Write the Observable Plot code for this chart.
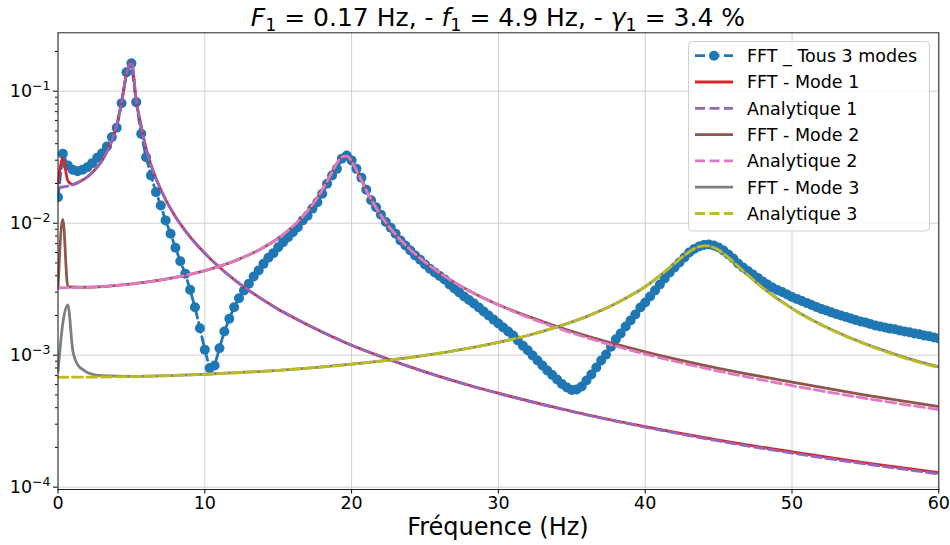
<!DOCTYPE html>
<html><head><meta charset="utf-8">
<script src="https://cdn.jsdelivr.net/npm/d3@7"></script>
<script src="https://cdn.jsdelivr.net/npm/@observablehq/plot@0.6"></script>
<style>
body{margin:0;background:#fff;}
#chart{width:950px;height:545px;}
</style></head><body><div id="chart"></div>
<script>
// FFT frequency bins (Hz)
const fftFreq = [0,0.33,0.67,1,1.33,1.67,2,2.33,2.67,3,3.33,3.67,4,4.33,4.67,5,5.33,5.67,6,6.33,6.67,7,7.33,7.67,8,8.33,8.67,9,9.33,9.67,
10,10.33,10.67,11,11.33,11.67,12,12.33,12.67,13,13.33,13.67,14,14.33,14.67,15,15.33,15.67,16,16.33,16.67,17,17.33,17.67,18,18.33,18.67,19,19.33,19.67,
20,20.33,20.67,21,21.33,21.67,22,22.33,22.67,23,23.33,23.67,24,24.33,24.67,25,25.33,25.67,26,26.33,26.67,27,27.33,27.67,28,28.33,28.67,29,29.33,29.67,
30,30.33,30.67,31,31.33,31.67,32,32.33,32.67,33,33.33,33.67,34,34.33,34.67,35,35.33,35.67,36,36.33,36.67,37,37.33,37.67,38,38.33,38.67,39,39.33,39.67,
40,40.33,40.67,41,41.33,41.67,42,42.33,42.67,43,43.33,43.67,44,44.33,44.67,45,45.33,45.67,46,46.33,46.67,47,47.33,47.67,48,48.33,48.67,49,49.33,49.67,
50,50.33,50.67,51,51.33,51.67,52,52.33,52.67,53,53.33,53.67,54,54.33,54.67,55,55.33,55.67,56,56.33,56.67,57,57.33,57.67,58,58.33,58.67,59,59.33,59.67,60];
// FFT _ Tous 3 modes
const fftAll = [0.0157,0.0336,0.0274,0.0254,0.0248,0.0254,0.0265,0.0285,0.0313,0.0339,
0.0381,0.0449,0.0528,0.0811,0.139,0.163,0.0826,0.0475,0.0316,0.0230,
0.0172,0.0136,0.0105,0.00832,0.00652,0.00515,0.00414,0.00313,0.00231,0.00160,
0.00110,0.000798,0.000836,0.00113,0.00151,0.00189,0.00231,0.00270,0.00309,0.00348,
0.00394,0.00439,0.00492,0.00547,0.00593,0.00658,0.00718,0.00783,0.00855,0.00933,
0.0105,0.0114,0.0129,0.0144,0.0167,0.0199,0.0230,0.0258,0.0308,0.0326,
0.0299,0.0258,0.0221,0.0179,0.0149,0.0132,0.0116,0.0102,0.00923,0.00832,
0.00740,0.00678,0.00621,0.00569,0.00528,0.00486,0.00451,0.00423,0.00398,0.00375,
0.00343,0.00320,0.00299,0.00278,0.00262,0.00246,0.00230,0.00214,0.00200,0.00186,
0.00174,0.00162,0.00151,0.00141,0.00129,0.00118,0.00109,0.000995,0.000912,0.000836,
0.000766,0.000708,0.000655,0.000605,0.000569,0.000545,0.000550,0.000579,0.000643,0.000714,
0.000807,0.000912,0.00101,0.00116,0.00132,0.00146,0.00165,0.00183,0.00203,0.00230,
0.00251,0.00278,0.00309,0.00343,0.00381,0.00423,0.00462,0.00504,0.00550,0.00600,
0.00638,0.00666,0.00684,0.00690,0.00678,0.00655,0.00621,0.00579,0.00540,0.00495,
0.00462,0.00434,0.00409,0.00385,0.00362,0.00343,0.00326,0.00312,0.00301,0.00288,
0.00276,0.00267,0.00257,0.00249,0.00240,0.00232,0.00224,0.00218,0.00211,0.00205,
0.00200,0.00195,0.00190,0.00185,0.00180,0.00177,0.00172,0.00168,0.00165,0.00162,
0.00159,0.00157,0.00154,0.00151,0.00149,0.00146,0.00144,0.00141,0.00139,0.00136,0.00134];

// Mode 1
const mode1Freq = [0,0.33,0.67,1,1.33,1.67,2,2.33,2.67,3,3.33,3.67,4,4.33,4.67,5,5.33,5.67,6,6.33,6.67,7,7.33,7.67,8,8.5,9,10,11,12,13,14,15,16,18,20,22,25,28,30,35,40,45,50,55,60];
const analytic1 = [0.0187,0.0188,0.0191,0.0195,0.0202,0.0212,0.0224,0.0242,0.0266,0.0298,0.0347,0.0422,0.0553,0.0825,0.135,0.166,0.085,0.0537,0.0369,0.0277,0.0219,0.0180,0.0151,0.0129,0.0112,0.0093,0.00788,0.00591,0.00463,0.00374,0.00310,0.00261,0.00223,0.00194,0.00150,0.00119,0.000976,0.000747,0.000591,0.000513,0.000374,0.000285,0.000224,0.000181,0.000150,0.000126];
const fftMode1 = [0.0200,0.0310,0.0210,0.0197,0.0203,0.0212,0.0224,0.0242,0.0266,0.0298,0.0347,0.0422,0.0553,0.0825,0.135,0.166,0.085,0.0537,0.0369,0.0277,0.0219,0.0180,0.0151,0.0129,0.0112,0.0093,0.00788,0.00591,0.00463,0.00374,0.00310,0.00261,0.00223,0.00194,0.00150,0.00119,0.000977,0.000748,0.000592,0.000515,0.000376,0.000287,0.000227,0.000185,0.000153,0.000129];

// Mode 2
const mode2Freq = [0,2,4,6,8,10,12,14,15,16,17,17.33,17.67,18,18.33,18.67,19,19.33,19.67,20,20.33,20.67,21,21.67,22.33,23,24,25,26,28,30,33,36,40,45,50,55,60];
const analytic2 = [0.00324,0.00327,0.00338,0.00357,0.00388,0.00437,0.00516,0.00655,0.00769,0.00944,0.01235,0.01378,0.01558,0.01785,0.02074,0.02434,0.0284,0.0317,0.0322,0.02945,0.02518,0.0211,0.01773,0.01306,0.01014,0.00821,0.00630,0.00507,0.00420,0.00308,0.00240,0.00176,0.00136,0.00102,0.000757,0.000588,0.000471,0.000387];
const fftMode2Freq = [0,0.33,0.67,2,4,6,8,10,12,14,15,16,17,17.33,17.67,18,18.33,18.67,19,19.33,19.67,20,20.33,20.67,21,21.67,22.33,23,24,25,26,28,30,33,36,40,45,50,55,60];
const fftMode2 = [0.0032,0.0107,0.0033,0.00327,0.00338,0.00357,0.00388,0.00437,0.00516,0.00655,0.00769,0.00944,0.01235,0.01378,0.01558,0.01785,0.02074,0.02434,0.0284,0.0317,0.0322,0.02945,0.02518,0.0211,0.01773,0.01306,0.01014,0.00821,0.00630,0.00507,0.00420,0.00308,0.00241,0.00180,0.00140,0.00106,0.000795,0.000625,0.000499,0.000408];

// Mode 3
const mode3Freq = [0,5,10,15,20,25,28,30,32,34,36,38,39,40,41,42,42.67,43.33,43.67,44,44.33,44.67,45,45.33,46,47,48,50,52,54,56,58,60];
const analytic3 = [0.00068,0.000689,0.000717,0.000768,0.000854,0.000996,0.00113,0.00125,0.00141,0.00164,0.00196,0.00246,0.00283,0.00330,0.00400,0.00495,0.00570,0.00640,0.00664,0.00674,0.00672,0.00655,0.00627,0.00590,0.00509,0.00404,0.00324,0.00225,0.00169,0.00134,0.00110,0.000927,0.000804];
const fftMode3Freq = [0,0.33,0.67,1,1.33,1.67,2,2.5,3,5,10,15,20,25,28,30,32,34,36,38,39,40,41,42,42.67,43.33,43.67,44,44.33,44.67,45,45.33,46,47,48,50,52,54,56,58,60];
const fftMode3 = [0.00075,0.00175,0.00240,0.00110,0.00085,0.00078,0.00074,0.00071,0.000700,0.000692,0.000717,0.000768,0.000854,0.000996,0.00113,0.00125,0.00141,0.00164,0.00196,0.00246,0.00283,0.00330,0.00400,0.00495,0.00570,0.00640,0.00664,0.00674,0.00672,0.00655,0.00627,0.00590,0.00509,0.00404,0.00325,0.00226,0.00170,0.00135,0.00111,0.000937,0.000815];

const xTicks = [0,10,20,30,40,50,60];
const yTicks = [1e-4,1e-3,1e-2,1e-1];
const yMinor = [2e-4,3e-4,4e-4,5e-4,6e-4,7e-4,8e-4,9e-4,2e-3,3e-3,4e-3,5e-3,6e-3,7e-3,8e-3,9e-3,2e-2,3e-2,4e-2,5e-2,6e-2,7e-2,8e-2,9e-2,2e-1];
const legendLabels = ["FFT _ Tous 3 modes","FFT - Mode 1","Analytique 1","FFT - Mode 2","Analytique 2","FFT - Mode 3","Analytique 3"];
const colors = ["#1f77b4","#d62728","#9467bd","#8c564b","#e377c2","#7f7f7f","#bcbd22"];
const dashed = [true,false,true,false,true,false,true];

const zip = (xs, ys) => xs.map((f, i) => ({f, v: ys[i]}));
const seriesData = [
  zip(fftFreq, fftAll),
  zip(mode1Freq, fftMode1),
  zip(mode1Freq, analytic1),
  zip(fftMode2Freq, fftMode2),
  zip(mode2Freq, analytic2),
  zip(fftMode3Freq, fftMode3),
  zip(mode3Freq, analytic3)
];

const LW = 2.8;
const lineMarks = seriesData.slice(1).map((d, i) => Plot.line(d, {
  x: "f", y: "v", stroke: colors[i + 1], strokeWidth: LW,
  strokeDasharray: dashed[i + 1] ? "10,4.5" : null, curve: "monotone-x", clip: true
}));

const plot = Plot.plot({
  width: 950, height: 545,
  marginLeft: 57.5, marginRight: 11.7, marginTop: 32.3, marginBottom: 56,
  style: {fontFamily: '"DejaVu Sans", sans-serif', fontSize: "17.5px", color: "#000", background: "#fff", overflow: "visible"},
  x: {domain: [0, 60], label: null},
  y: {type: "log", domain: [0.96e-4, 0.277], label: null},
  marks: [
    Plot.ruleX(xTicks, {stroke: "#d0d0d0", strokeWidth: 1}),
    Plot.ruleY(yTicks, {stroke: "#d0d0d0", strokeWidth: 1}),
    Plot.line(seriesData[0], {x: "f", y: "v", stroke: colors[0], strokeWidth: LW, strokeDasharray: "10,4.5", clip: true}),
    Plot.dot(seriesData[0], {x: "f", y: "v", r: 5, fill: colors[0], clip: true}),
    ...lineMarks,
    Plot.frame({stroke: "#222", strokeWidth: 1}),
    Plot.axisX({ticks: xTicks, tickSize: 4.5, tickPadding: 3, label: null, tickFormat: d => String(d)}),
    Plot.axisY({ticks: yTicks, tickSize: 4.5, tickPadding: 3, label: null, tickFormat: d => String(Math.round(Math.log10(d)))}),
    Plot.axisY({ticks: yMinor, tickSize: 2.5, label: null, tickFormat: () => ""})
  ]
});
document.getElementById("chart").appendChild(plot);

const svg = d3.select(plot);
// superscript exponents on y tick labels
svg.selectAll('g[aria-label="y-axis tick label"] text').each(function() {
  const t = d3.select(this);
  const e = t.text();
  if (!e) return;
  t.text("10");
  t.append("tspan").attr("dy", "-7").attr("font-size", "12.5px").text(e.replace("-", "\u2212"));
});

// title
const title = svg.append("text").attr("x", 497.9).attr("y", 26).attr("text-anchor", "middle")
  .attr("font-size", "25px").attr("fill", "#000").style("font-family", '"DejaVu Sans", sans-serif');
const segs = [["F","i"],["1","s"],[" = 0.17 Hz, - ",""],["f","i"],["1","s"],[" = 4.9 Hz, - ",""],["\u03b3","i"],["1","s"],[" = 3.4 %",""]];
let shifted = false;
segs.forEach(([s, k]) => {
  const ts = title.append("tspan").text(s);
  if (k === "i") ts.attr("font-style", "italic");
  if (k === "s") { ts.attr("font-size", "17.5px").attr("dy", 5); shifted = true; }
  else if (shifted) { ts.attr("dy", -5); shifted = false; }
});

// x label
svg.append("text").attr("x", 497.9).attr("y", 535).attr("text-anchor", "middle")
  .attr("font-size", "24px").attr("fill", "#000").text("Fréquence (Hz)");

// legend
const lg = svg.append("g").attr("text-anchor", "start");
lg.append("rect").attr("x", 688.5).attr("y", 41.5).attr("width", 241).attr("height", 189.5).attr("rx", 4)
  .attr("fill", "#fff").attr("fill-opacity", 0.8).attr("stroke", "#d0d0d0").attr("stroke-width", 1);
legendLabels.forEach((lab, i) => {
  const y = 55.7 + 26.3 * i;
  lg.append("line").attr("x1", 695).attr("x2", 733).attr("y1", y).attr("y2", y)
    .attr("stroke", colors[i]).attr("stroke-width", LW).attr("stroke-dasharray", dashed[i] ? "10,4.5" : null);
  if (i === 0) lg.append("circle").attr("cx", 714).attr("cy", y).attr("r", 5).attr("fill", colors[0]);
  lg.append("text").attr("x", 747).attr("y", y).attr("dy", "0.36em").attr("text-anchor", "start")
    .attr("font-size", "17.5px").attr("fill", "#000").text(lab);
});
</script>
</body></html>
